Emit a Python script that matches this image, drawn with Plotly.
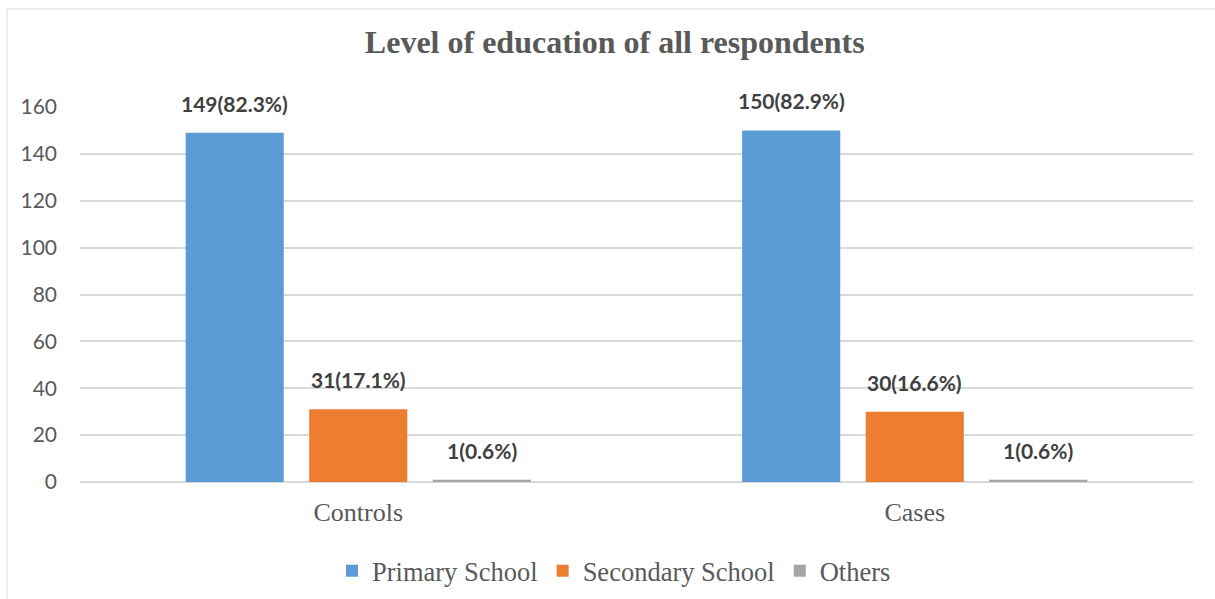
import plotly.graph_objects as go

categories = ["Controls", "Cases"]
series_names = ["Primary School", "Secondary School", "Others"]
primary = [149, 150]
secondary = [31, 30]
others = [1, 1]
primary_pct = [82.3, 82.9]
secondary_pct = [17.1, 16.6]
others_pct = [0.6, 0.6]
colors = ["#5B9BD5", "#ED7D31", "#A5A5A5"]
y_ticks = [0, 20, 40, 60, 80, 100, 120, 140, 160]

values = [primary, secondary, others]
pcts = [primary_pct, secondary_pct, others_pct]

fig = go.Figure()
for name, vals, col in zip(series_names, values, colors):
    fig.add_trace(go.Bar(x=categories, y=vals, name=name, marker_color=col,
                         marker_line_width=0))

# data labels as annotations shifted per series offset
L, R, T, B = 80, 22, 107, 117
W, H = 1215, 599
plot_w = W - L - R
plot_h = H - T - B
cat_w = plot_w / len(categories)
bargap = 0.334
slot = cat_w * (1 - bargap) / 3
for i, (vals, pc) in enumerate(zip(values, pcts)):
    for c, v, p in zip(categories, vals, pc):
        fig.add_annotation(x=c, y=v, xref="x", yref="y",
                           text=f"<b>{v}({p}%)</b>", showarrow=False,
                           xshift=(i - 1) * slot, yshift=15, yanchor="bottom",
                           font=dict(family="Lato", size=21, color="#404040"))

fig.add_shape(type="rect", xref="paper", yref="paper",
              x0=(7 - L) / plot_w, x1=(W + 5 - L) / plot_w,
              y0=-(B + 5) / plot_h, y1=(H - B - 9) / plot_h,
              line=dict(color="#D9D9D9", width=1), layer="below")

fig.update_layout(
    width=W, height=H,
    margin=dict(l=L, r=R, t=T, b=B, autoexpand=False),
    paper_bgcolor="white", plot_bgcolor="white",
    barmode="group", bargap=bargap, bargroupgap=0.206,
    title=dict(text="<b>Level of education of all respondents</b>",
               x=0.506, xanchor="center", y=1 - 42 / H, yanchor="middle",
               yref="container",
               font=dict(family="Liberation Serif", size=32, color="#595959")),
    showlegend=True,
    legend=dict(orientation="h", x=(614 - L) / plot_w, xanchor="center",
                y=-(571 - (H - B)) / plot_h, yanchor="middle",
                font=dict(family="Liberation Serif", size=26.5, color="#595959"),
                itemwidth=30, traceorder="normal"),
    xaxis=dict(showgrid=False, showline=False, ticks="",
               tickfont=dict(family="Liberation Serif", size=26, color="#595959"),
               ticklabelstandoff=12),
    yaxis=dict(range=[0, 160], tickvals=y_ticks, showgrid=True,
               gridcolor="#D9D9D9", gridwidth=1.5, zeroline=True,
               zerolinecolor="#D9D9D9", zerolinewidth=1.5, showline=False,
               ticks="", ticklabelstandoff=22,
               tickfont=dict(family="Lato", size=21, color="#595959")),
)

fig.write_html("out.html", config={"displayModeBar": False},
               post_script="document.body.style.margin='0px';document.body.style.overflow='hidden';")
